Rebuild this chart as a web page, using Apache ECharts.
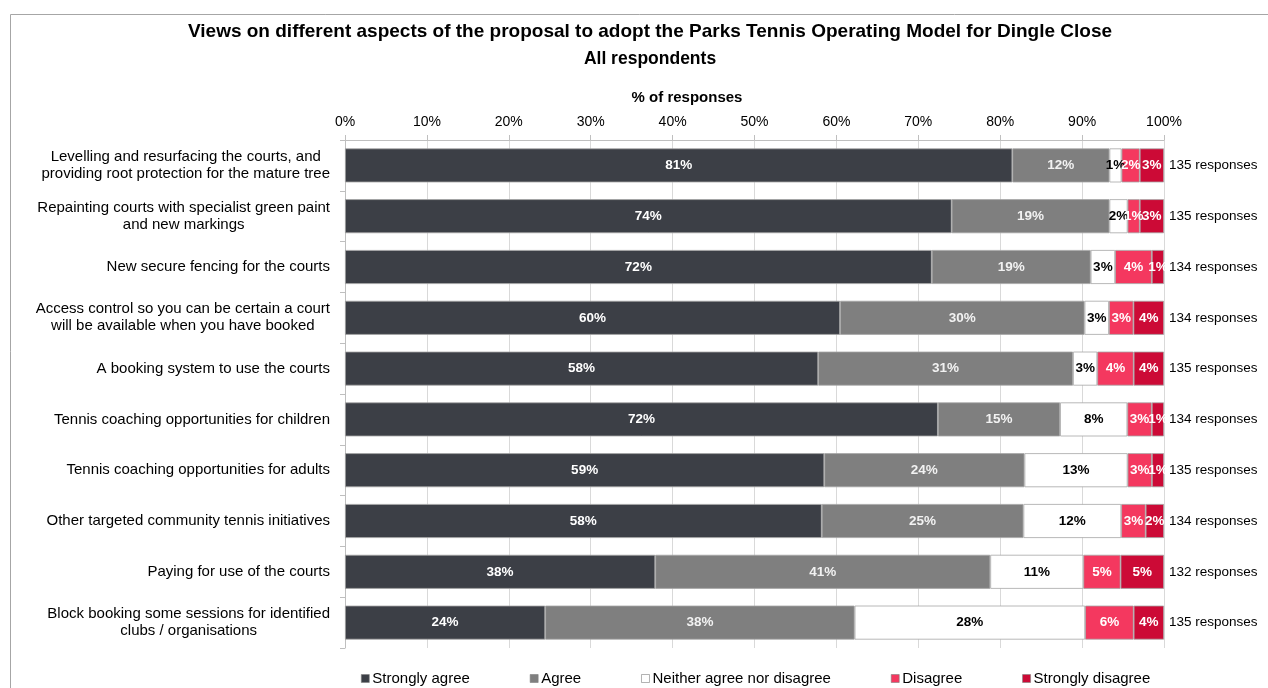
<!DOCTYPE html>
<html>
<head>
<meta charset="utf-8">
<title>Parks Tennis Operating Model – Dingle Close</title>
<script src="https://cdn.jsdelivr.net/npm/echarts@6/dist/echarts.min.js"></script>
<style>
  html, body { margin: 0; padding: 0; background: #ffffff; }
  #chart { width: 1268px; height: 688px; }
</style>
</head>
<body>
<div id="chart"></div>
<script>
// Aspects of the proposal (top to bottom)
const categories = [
  'Levelling and resurfacing the courts, and\nproviding root protection for the mature tree',
  'Repainting courts with specialist green paint\nand new markings',
  'New secure fencing for the courts',
  'Access control so you can be certain a court\nwill be available when you have booked',
  'A booking system to use the courts',
  'Tennis coaching opportunities for children',
  'Tennis coaching opportunities for adults',
  'Other targeted community tennis initiatives',
  'Paying for use of the courts',
  'Block booking some sessions for identified\nclubs / organisations'
];

// Number of respondents per aspect
const responses = [135, 135, 134, 134, 135, 134, 135, 134, 132, 135];

// Respondent counts per answer
const stronglyAgree    = [110, 100, 96, 81, 78, 97, 79, 78, 50, 33];
const agree            = [16, 26, 26, 40, 42, 20, 33, 33, 54, 51];
const neither          = [2, 3, 4, 4, 4, 11, 17, 16, 15, 38];
const disagree         = [3, 2, 6, 4, 6, 4, 4, 4, 6, 8];
const stronglyDisagree = [4, 4, 2, 5, 5, 2, 2, 3, 7, 5];

const answerNames = ['Strongly agree', 'Agree', 'Neither agree nor disagree', 'Disagree', 'Strongly disagree'];
const answerCounts = [stronglyAgree, agree, neither, disagree, stronglyDisagree];

const xTicks = { min: 0, max: 100, step: 10 };

const FONT = '"Liberation Sans", Arial, sans-serif';
const fills = ['#3c3f46', '#7f7f7f', '#ffffff', '#f4385f', '#cc0a36'];
const labelColors = ['#ffffff', '#f2f2f2', '#000000', '#ffffff', '#ffffff'];

const series = answerNames.map((name, s) => ({
  name: name,
  type: 'bar',
  stack: 'total',
  barWidth: 34,
  itemStyle: { color: fills[s], borderColor: '#a6a6a6', borderWidth: 0.8 },
  label: {
    show: true,
    position: 'inside',
    fontFamily: FONT,
    fontSize: 13.5,
    fontWeight: 'bold',
    color: labelColors[s],
    formatter: p => Math.round(p.value) + '%'
  },
  emphasis: { disabled: true },
  data: answerCounts[s].map((c, i) => c / responses[i] * 100)
}));

const chart = echarts.init(document.getElementById('chart'), null, { renderer: 'canvas' });

chart.setOption({
  backgroundColor: '#ffffff',
  animation: false,
  textStyle: { fontFamily: FONT },
  title: [
    {
      text: 'Views on different aspects of the proposal to adopt the Parks Tennis Operating Model for Dingle Close',
      left: 645, textAlign: 'center', top: 17,
      textStyle: { fontFamily: FONT, fontSize: 19, fontWeight: 'bold', color: '#000' }
    },
    {
      text: 'All respondents',
      left: 645, textAlign: 'center', top: 45,
      textStyle: { fontFamily: FONT, fontSize: 17.5, fontWeight: 'bold', color: '#000' }
    },
    {
      text: '% of responses',
      left: 682, textAlign: 'center', top: 85,
      textStyle: { fontFamily: FONT, fontSize: 15, fontWeight: 'bold', color: '#000' }
    }
  ],
  graphic: [
    {
      type: 'rect', silent: true, z: -1,
      shape: { x: 10.5, y: 14.5, width: 1300, height: 700 },
      style: { fill: 'none', stroke: '#a6a6a6', lineWidth: 1 }
    }
  ],
  legend: {
    left: 361, top: 671, padding: 0,
    itemWidth: 8, itemHeight: 8, itemGap: 60,
    icon: 'rect',
    textStyle: { fontFamily: FONT, fontSize: 15, color: '#000', padding: [0, 0, 0, -2] },
    itemStyle: { borderColor: '#7f7f7f', borderWidth: 0.6 },
    data: answerNames
  },
  grid: { left: 345, right: 104, top: 140, bottom: 40, containLabel: false },
  xAxis: {
    type: 'value', position: 'top',
    min: xTicks.min, max: xTicks.max, interval: xTicks.step,
    axisLine: { show: true, lineStyle: { color: '#bfbfbf', width: 1 } },
    axisTick: { show: true, length: 5, lineStyle: { color: '#bfbfbf' } },
    axisLabel: { fontFamily: FONT, fontSize: 14, color: '#000', margin: 11, formatter: '{value}%' },
    splitLine: { show: true, lineStyle: { color: '#d9d9d9', width: 1 } }
  },
  yAxis: [
    {
      type: 'category', inverse: true, data: categories,
      axisLine: { show: true, lineStyle: { color: '#bfbfbf' } },
      axisTick: { show: true, length: 5, lineStyle: { color: '#bfbfbf' } },
      axisLabel: {
        fontFamily: FONT, fontSize: 15, color: '#000', margin: 15, align: 'right', lineHeight: 17,
        formatter: v => v.split('\n').map(l => '{c|' + l + '}').join('\n'),
        rich: { c: { align: 'center', fontFamily: FONT, fontSize: 15, color: '#000', lineHeight: 17 } }
      }
    },
    {
      type: 'category', inverse: true, position: 'right',
      data: responses.map(n => n + ' responses'),
      axisLine: { show: false }, axisTick: { show: false },
      axisLabel: { fontFamily: FONT, fontSize: 13.5, color: '#000', margin: 5 }
    }
  ],
  series: series
});
</script>
</body>
</html>
